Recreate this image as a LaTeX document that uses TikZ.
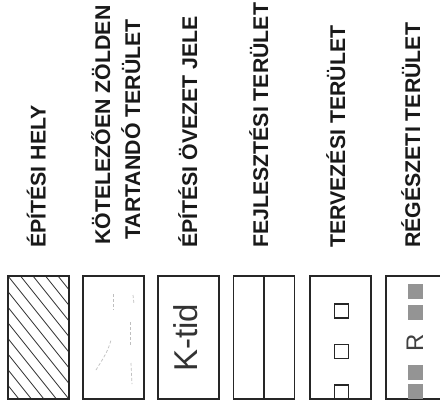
\documentclass[tikz,border=0pt]{standalone}
\usepackage{fontspec}
\setmainfont{Liberation Sans}
\begin{document}
\begin{tikzpicture}[x=1pt,y=-1pt,
  box/.style={draw=black!85,line width=1.5pt,minimum width=61pt,minimum height=123pt,inner sep=0pt},
  lbl/.style={rotate=90,anchor=base west,font=\bfseries\fontsize{21.3}{24}\selectfont,text=black!90,inner sep=0pt},
  sq/.style={draw=black!85,line width=1.2pt,minimum size=14pt,inner sep=0pt},
  gsq/.style={fill=black!42,minimum size=15pt,inner sep=0pt},
  faint/.style={draw=black!25,line width=0.7pt,dash pattern=on 3pt off 2pt},
]
\useasboundingbox (0,0) rectangle (440,405);
\fill[white] (0,0) rectangle (440,405);
\clip (0,0) rectangle (440,405);

% labels
\node[lbl] (l1) at (45.5,248) {ÉPÍTÉSI HELY};
\node[lbl,anchor=base] (l2a) at (110,125) {KÖTELEZŐEN ZÖLDEN};
\node[lbl,anchor=base] (l2b) at (140,129.5) {TARTANDÓ TERÜLET};
\node[lbl] (l3) at (197,248) {ÉPÍTÉSI ÖVEZET JELE};
\node[lbl] (l4) at (268,248) {FEJLESZTÉSI TERÜLET};
\node[lbl] (l5) at (345,248) {TERVEZÉSI TERÜLET};
\node[lbl] (l6) at (420,248) {RÉGÉSZETI TERÜLET};

% boxes
\node[box] (b1) at (38.5,337.5) {};
\node[box] (b2) at (113.5,337.5) {};
\node[box] (b3) at (188.5,337.5) {};
\node[box] (b4) at (264,337.5) {};
\node[box] (b5) at (340.5,337.5) {};
\node[box] (b6) at (416.5,337.5) {};

% hatching in box 1
\begin{scope}
  \clip (b1.north west) rectangle (b1.south east);
  \foreach \k in {-9,...,6} {
    \draw[line width=0.8pt,black!80] (8+12.5*\k,276) -- ++(112,140);
  }
\end{scope}
\node[box] (b1f) at (38.5,337.5) {};

% faint marks in box 2
\draw[faint] (130,322) -- (130,345);
\draw[faint] (131,363) -- (132,384);
\draw[faint] (96,370) .. controls (102,360) and (108,352) .. (111,340);
\draw[faint] (113,294) -- (113,310);
\draw[faint] (133,295) -- (134,304);

% K-tid
\node[rotate=90,anchor=base,inner sep=0pt,font=\fontsize{33}{36}\selectfont,text=black!80] (kt) at (197,338) {K-tid};

% box 4 middle line
\draw[line width=1.8pt,black!85] (b4.north) -- (b4.south);

% box 5 squares
\node[sq] (s1) at (341.5,311) {};
\node[sq] (s2) at (341.5,351.5) {};
\node[sq] (s3) at (341.5,392) {};

% box 6
\node[gsq] (g1) at (415.5,291.5) {};
\node[gsq] (g2) at (415.5,312) {};
\node[gsq] (g3) at (415.5,372.5) {};
\node[gsq] (g4) at (415.5,391.5) {};
\node[rotate=90,anchor=base,inner sep=0pt,font=\fontsize{24}{28}\selectfont,text=black!75] (r) at (423,343) {R};
\end{tikzpicture}
\end{document}
